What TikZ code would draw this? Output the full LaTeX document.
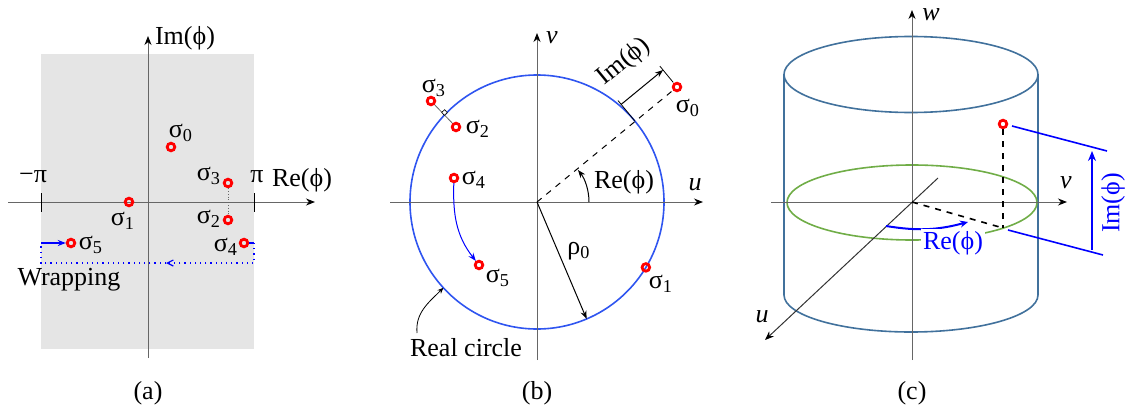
\documentclass[tikz,border=0pt]{standalone}
\usepackage{fontspec}
\setmainfont{Liberation Serif}
\usetikzlibrary{arrows.meta, calc, positioning}
\definecolor{panelgray}{HTML}{E5E5E5}
\definecolor{axisgray} {HTML}{666666}
\definecolor{ringblue} {HTML}{2F55F0}
\definecolor{cylblue}  {HTML}{41719C}
\definecolor{ringgreen}{HTML}{70AD47}
\definecolor{ptred}    {HTML}{FF0000}
\newcommand{\sgm}[1]{σ\textsubscript{#1}}
\tikzset{
  axis/.style  = {draw=axisgray, line width=0.5pt,
                  -{Stealth[length=4.5pt, width=3.5pt, black]}},
  pt/.style    = {circle, draw=ptred, line width=1.4pt,
                  minimum size=3.8pt, inner sep=0pt},
  lab/.style   = {font=\fontsize{13}{15}\selectfont, inner sep=0pt},
  var/.style   = {lab, font=\fontsize{13}{15}\selectfont\itshape},
  arr/.style   = {-{Stealth[length=4pt, width=3pt]}, line width=0.5pt},
  wrap/.style  = {blue, line width=0.6pt},
}

\begin{document}
\begin{tikzpicture}[x=0.5pt, y=0.5pt]
  \useasboundingbox (0,0) rectangle (1129,-412);

  % (a) the phase plane
  \fill[panelgray] (41,-54) rectangle (254,-349);
  \coordinate (aXl) at (8,-202);   \coordinate (aXr) at (315,-202);
  \coordinate (aYb) at (148,-358); \coordinate (aYt) at (148,-36);
  \draw[axis] (aXl) -- (aXr);
  \draw[axis] (aYb) -- (aYt);
  \coordinate (aTl1) at (41,-193);  \coordinate (aTl2) at (41,-212);
  \coordinate (aTr1) at (254,-193); \coordinate (aTr2) at (254,-212);
  \draw[black, line width=0.5pt] (aTl1) -- (aTl2) (aTr1) -- (aTr2);
  \node[lab] (amp) at (33,-177) {−π};
  \node[lab] (app) at (257,-177) {π};
  \node[lab] (are) at (302,-180) {Re(ϕ)};
  \node[lab] (aim) at (185,-38) {Im(ϕ)};

  \node[pt] (a0) at (171,-147) {};
  \node[pt] (a1) at (129,-202) {};
  \node[pt] (a2) at (228,-220) {};
  \node[pt] (a3) at (228,-183) {};
  \node[pt] (a4) at (244,-243) {};
  \node[pt] (a5) at (71,-243) {};
  \node[lab] (la0) at (181,-133) {\sgm{0}};
  \node[lab] (la1) at (123,-221) {\sgm{1}};
  \node[lab] (la3) at (209,-176) {\sgm{3}};
  \node[lab] (la2) at (209,-219) {\sgm{2}};
  \node[lab] (la4) at (226,-247) {\sgm{4}};
  \node[lab] (la5) at (91,-245) {\sgm{5}};
  \draw[axisgray, densely dotted, line width=0.4pt] (a3) -- (a2);

  % wrapping round
  \coordinate (aw1) at (254,-243); \coordinate (aw2) at (254,-263);
  \coordinate (awm) at (166,-263);
  \coordinate (aw3) at (41,-263);  \coordinate (aw4) at (41,-243);
  \draw[wrap] (a4) -- (aw1);
  \draw[wrap, dotted, -{Straight Barb[length=3pt, width=3pt]}] (aw1) -- (aw2) -- (awm);
  \draw[wrap, dotted] (awm) -- (aw3) -- (aw4);
  \draw[wrap, -{Stealth[length=4pt, width=3pt]}] (aw4) -- (a5);
  \node[lab] (awr) at (69,-280) {Wrapping};
  \node[lab] (acap) at (148,-393) {(a)};

  % (b) the real circle
  \coordinate (bO) at (537,-202);
  \draw[ringblue, line width=0.8pt] (bO) circle[radius=127];
  \coordinate (bXl) at (390,-202); \coordinate (bXr) at (703,-202);
  \coordinate (bYb) at (537,-360); \coordinate (bYt) at (537,-33);
  \draw[axis] (bXl) -- (bXr);
  \draw[axis] (bYb) -- (bYt);
  \node[var] (bv) at (552,-38) {v};
  \node[var] (bu) at (695,-185) {u};

  \node[pt] (b0) at (677,-87) {};
  \node[lab] (lb0) at (688,-108) {\sgm{0}};
  \draw[black, dashed, line width=0.5pt] (bO) -- (b0);
  \coordinate (bP) at ($(bO)+(39.4:127)$);
  \draw[black, line width=0.4pt] (bP) -- ($(bP)!13.5pt!90:(b0)$);
  \draw[black, line width=0.4pt] ($(b0)!3pt!-90:(bO)$) -- ($(b0)!13.5pt!-90:(bO)$);
  \draw[arr] ($(bP)!11pt!90:(b0)$) -- ($(b0)!11pt!-90:(bO)$);
  \node[lab, rotate=39.4] (bim) at (624,-62) {Im(ϕ)};
  \coordinate (bA) at ($(bO)+(52,0)$);
  \draw[arr] (bA) arc[start angle=0, end angle=38, radius=52];
  \node[lab] (bre) at (624,-182) {Re(ϕ)};

  \node[pt] (b1) at ($(bO)+(-31:127)$) {};
  \node[lab] (lb1) at (661,-284) {\sgm{1}};
  \coordinate (bR0) at ($(bO)+(-67:127)$);
  \draw[arr] (bO) -- (bR0);
  \node[lab] (brho) at (579,-251) {ρ\textsubscript{0}};

  \node[pt] (b3) at (431,-101) {};
  \node[pt] (b2) at (456,-127) {};
  \node[lab] (lb3) at (434,-88) {\sgm{3}};
  \node[lab] (lb2) at (478,-129) {\sgm{2}};
  \draw[axisgray, line width=0.4pt] (b3) -- (b2);
  \node[draw=black, line width=0.3pt, minimum size=2pt, inner sep=0pt,
        rotate=-46, fill=white] (bsq) at (444.5,-112.5) {};

  \node[pt] (b4) at (454,-178) {};
  \node[pt] (b5) at (479,-265) {};
  \node[lab] (lb4) at (474,-180) {\sgm{4}};
  \node[lab] (lb5) at (498,-278) {\sgm{5}};
  \draw[blue, line width=0.5pt, -{Stealth[length=4pt, width=3pt]}]
    (b4) to[out=-92, in=128] (b5);

  \coordinate (bR) at ($(bO)+(222.5:127)$);
  \coordinate (bRl) at (417,-333);
  \draw[black, line width=0.4pt, -{Stealth[length=3pt, width=2.5pt]}]
    (bRl) to[out=95, in=225] (bR);
  \node[lab] (brc) at (466,-348) {Real circle};
  \node[lab] (bcap) at (537,-393) {(b)};

  % (c) the cylinder
  \coordinate (cO) at (912,-202);
  \draw[cylblue, line width=0.8pt] (911,-74.5) ellipse[x radius=127, y radius=38];
  \draw[cylblue, line width=0.8pt] (784,-74.5) -- (784,-295)
    arc[start angle=180, end angle=360, x radius=127, y radius=37] -- (1038,-74.5);
  \draw[ringgreen, line width=0.8pt] (912,-202.5) ellipse[x radius=125, y radius=37.5];

  \coordinate (cWb) at (912,-360); \coordinate (cWt) at (912,-10);
  \coordinate (cVl) at (771,-202); \coordinate (cVr) at (1067,-202);
  \coordinate (cUt) at (938,-178); \coordinate (cUb) at (765,-340);
  \draw[axis] (cWb) -- (cWt);
  \draw[axis] (cVl) -- (cVr);
  \draw[axis, draw=black!80] (cUt) -- (cUb);
  \node[var] (cw) at (931,-15) {w};
  \node[var] (cv) at (1066,-183) {v};
  \node[var] (cu) at (762,-317) {u};

  \node[pt] (cpt) at (1003,-124) {};
  \coordinate (cF) at (1003,-228);
  \draw[black, dashed, line width=0.8pt] (cpt) -- (cF);
  \draw[black, dashed, line width=0.8pt] (cO) -- (cF);

  \coordinate (cI1) at (1012,-126); \coordinate (cI2) at (1107,-151);
  \coordinate (cI3) at (1008,-230); \coordinate (cI4) at (1103,-255);
  \coordinate (cIb) at (1092,-250); \coordinate (cIt) at (1092,-151);
  \draw[blue, line width=0.8pt] (cI1) -- (cI2) (cI3) -- (cI4);
  \draw[blue, line width=0.6pt, -{Stealth[length=5pt, width=4pt]}] (cIb) -- (cIt);
  \node[lab, text=blue, rotate=90] (cim) at (1113,-203) {Im(ϕ)};

  \coordinate (cR1) at (886,-226); \coordinate (cR2) at (968,-222);
  \draw[blue, line width=1pt, -{Stealth[length=4pt, width=3.5pt]}]
    (cR1) to[bend right=12] (cR2);
  \node[lab, text=blue, fill=white, inner sep=1pt] (cre) at (953,-243) {Re(ϕ)};
  \node[lab] (ccap) at (912,-393) {(c)};

\end{tikzpicture}
\end{document}
